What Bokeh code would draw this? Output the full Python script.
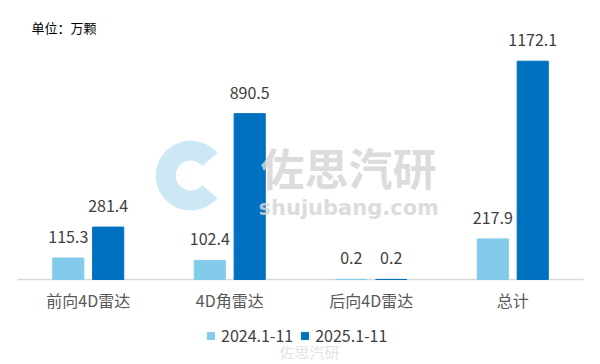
from bokeh.plotting import figure
from bokeh.models import Range1d, Label, Legend, LegendItem, ColumnDataSource
from bokeh.transform import dodge
from bokeh.core.properties import value
from bokeh.embed import file_html
from bokeh.resources import INLINE

# Shipments of 4D imaging radar, unit: 10k units
categories = ["前向4D雷达", "4D角雷达", "后向4D雷达", "总计"]
series_names = ["2024.1-11", "2025.1-11"]
values_2024 = [115.3, 102.4, 0.2, 217.9]
values_2025 = [281.4, 890.5, 0.2, 1172.1]

LIGHT = "#83CBEB"
DARK = "#0070C0"
FONT = "Noto Sans CJK SC"

src = ColumnDataSource(dict(
    cat=categories,
    zero=[0] * len(categories),
    v24=values_2024,
    v25=values_2025,
    t24=[f"{v}" for v in values_2024],
    t25=[f"{v}" for v in values_2025],
))

# The plot frame fills the whole canvas; the baseline sits 85px above the bottom.
p = figure(
    width=600, height=364,
    x_range=categories,
    y_range=Range1d(-456.4, 1498),
    output_backend="svg",
    toolbar_location=None,
    min_border=0,
)
p.x_range.range_padding = 0.12
p.x_range.range_padding_units = "absolute"
p.outline_line_color = None
p.background_fill_color = "white"
p.border_fill_color = "white"
p.grid.visible = False
p.axis.visible = False

# Category axis: baseline and labels
ends = ColumnDataSource(dict(a=[categories[0]], b=[categories[-1]], y=[0]))
p.segment(x0=dodge("a", -0.5, range=p.x_range), x1=dodge("b", 0.5, range=p.x_range),
          y0="y", y1="y", source=ends, line_color="#D9D9D9", line_width=1.5)
p.text(x="cat", y="zero", text="cat", source=src, text_align="center",
       text_baseline="top", y_offset=9, text_font=value(FONT),
       text_font_size="16px", text_color="#595959")

off = 0.141
bw = 0.22
r24 = p.vbar(x=dodge("cat", -off, range=p.x_range), top="v24", width=bw,
             source=src, fill_color=LIGHT, line_color=LIGHT, line_width=1)
r25 = p.vbar(x=dodge("cat", off, range=p.x_range), top="v25", width=bw,
             source=src, fill_color=DARK, line_color=DARK, line_width=1)

for col, t, dx in (("v24", "t24", -off), ("v25", "t25", off)):
    p.text(x=dodge("cat", dx, range=p.x_range), y=col, text=t, source=src,
           text_align="center", text_baseline="alphabetic", y_offset=-21,
           text_font=value(FONT), text_font_size="16px", text_color="#404040")

# Watermark logo and text
logo = ColumnDataSource(dict(cat=["4D角雷达"], y=[558]))
p.annular_wedge(x=dodge("cat", -0.276, range=p.x_range), y="y", source=logo,
                inner_radius=15, outer_radius=35,
                inner_radius_units="screen", outer_radius_units="screen",
                start_angle=0.7, end_angle=-0.7, direction="anticlock",
                fill_color="#BFE2F3", fill_alpha=0.8, line_color=None)
p.add_layout(Label(x=260, y=198, x_units="screen", y_units="screen",
                   text="佐思汽研", text_font=FONT, text_font_size="44px",
                   text_font_style="bold", text_color="#D6D6D6", text_alpha=0.85,
                   text_baseline="middle"))
p.add_layout(Label(x=258, y=157, x_units="screen", y_units="screen",
                   text="shujubang.com", text_font="DejaVu Sans",
                   text_font_size="21px", text_font_style="bold",
                   text_color="#D6D6D6", text_alpha=0.85, text_baseline="middle"))
p.add_layout(Label(x=279, y=13, x_units="screen", y_units="screen",
                   text="佐思汽研", text_font=FONT, text_font_size="15px",
                   text_color="#E4E4E4", text_baseline="middle"))

# Unit caption
p.add_layout(Label(x=31, y=337, x_units="screen", y_units="screen",
                   text="单位：万颗", text_font=FONT, text_font_size="13px",
                   text_color="#000000", text_baseline="middle"))

legend = Legend(
    items=[LegendItem(label=series_names[0], renderers=[r24]),
           LegendItem(label=series_names[1], renderers=[r25])],
    orientation="horizontal",
    location=(206, 17),
    glyph_width=9, glyph_height=9,
    label_standoff=6, spacing=7,
    padding=0, margin=0,
    border_line_color=None, background_fill_alpha=0,
    label_text_font=FONT, label_text_font_size="16px",
    label_text_color="#404040",
)
p.add_layout(legend, "center")

open("out.html", "w").write(file_html(p, INLINE))
